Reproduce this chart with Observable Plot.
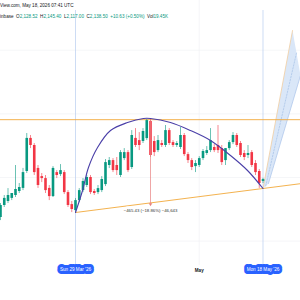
<!DOCTYPE html>
<html><head><meta charset="utf-8">
<script src="https://cdn.jsdelivr.net/npm/d3@7"></script>
<script src="https://cdn.jsdelivr.net/npm/@observablehq/plot@0.6"></script>
<style>html,body{margin:0;padding:0;background:#fff;overflow:hidden}</style>
</head><body><div id="chart"></div>
<script>
// ---- data ----
const firstDay = "2026-03-09"; // daily candles, one per day
const opens  = [1930,1996,2018,2035,2051,2073,2090,2183,2365,2326,2200,2155,2144,2090,2045,2177,2166,2177,2067,2001,
                1968,2023,2078,2106,2150,2073,2067,2078,2111,2216,2243,2216,2161,2254,2287,2205,2365,2353,2348,2364,
                2458,2348,2298,2337,2326,2408,2342,2326,2315,2381,2276,2243,2210,2216,2254,2282,2298,2315,2326,2309,
                2243,2309,2342,2381,2337,2282,2271,2287,2227,2183,2128.52];
const highs  = [2007,2051,2089,2062,2216,2117,2200,2392,2381,2337,2216,2172,2161,2106,2210,2188,2221,2188,2078,2018,
                2034,2089,2144,2161,2161,2084,2106,2155,2249,2260,2254,2260,2298,2309,2298,2408,2419,2397,2419,2470,
                2470,2375,2381,2353,2436,2419,2353,2348,2425,2392,2287,2254,2243,2265,2304,2320,2419,2331,2436,2326,
                2309,2353,2397,2392,2348,2298,2326,2298,2243,2194,2145.40];
const lows   = [1913,1985,2007,2023,2040,2062,2078,2172,2309,2161,2090,2122,2062,2023,2040,2144,2155,2056,1985,1957,
                1957,2012,2067,2095,2056,2051,2056,2067,2100,2199,2177,2161,2150,2243,2177,2194,2315,2298,2337,2353,
                2260,2265,2287,2315,2315,2326,2315,2315,2304,2265,2227,2188,2177,2205,2243,2271,2287,2287,2282,2216,
                2216,2298,2331,2315,2260,2243,2254,2205,2161,2090,2117.00];
const closes = [1996,2035,2051,2062,2084,2095,2177,2365,2326,2177,2106,2144,2078,2045,2200,2161,2188,2067,1996,1974,
                2023,2078,2128,2150,2067,2062,2089,2139,2232,2243,2188,2188,2287,2287,2188,2381,2326,2326,2403,2463,
                2271,2287,2353,2326,2408,2337,2326,2337,2381,2276,2243,2205,2227,2254,2293,2298,2353,2298,2298,2232,
                2309,2342,2381,2326,2271,2260,2282,2216,2177,2117,2138.50];

const resistancePrice = 2468;
const arcDates  = ["2026-03-29T00:00","2026-03-30T21:00","2026-04-01T11:00","2026-04-03T21:00","2026-04-07T08:00",
                   "2026-04-11T21:00","2026-04-16T03:00","2026-04-18T00:00","2026-04-23T08:00","2026-04-28T16:00",
                   "2026-05-04T00:00","2026-05-09T08:00","2026-05-13T21:00","2026-05-18T00:00"];
const arcPrices = [1957.5,2078.5,2205,2315,2408.5,2452.5,2474.5,2474.5,2452.5,2408.5,2353.5,2271,2188.5,2089.5];
const trendDates  = ["2026-03-29","2026-05-28"];
const trendPrices = [1957.5,2116];
const channelLeftDates   = ["2026-05-18T00:00","2026-05-25T21:00"];
const channelLeftPrices  = [2089.5,2958.5];
const channelRightDates  = ["2026-05-19T11:00","2026-05-28T00:00"];
const channelRightPrices = [2117,2711];
const measureDate = "2026-04-18";
const measureTop = 2468, measureBottom = 2003;
const measureLabel = "−465.43 (−18.86%) −46,643";
const markerDates  = ["2026-03-29","2026-05-18"];
const markerLabels = ["Sun 29 Mar '26","Mon 18 May '26"];
const monthDates  = ["2026-05-01"];
const monthLabels = ["May"];
const gridPrices = [1800,2150,2500,2850];
const headerLine1 = "View.com, May 18, 2026 07:41 UTC";
const symbolName = "inbase";
const ohlcKeys = ["O","H","L","C"];
const ohlcValues = ["2,128.52","2,145.40","2,117.00","2,138.50"];
const changeText = "+10.63 (+0.50%)";
const volText = "19.45K";

// ---- build ----
const day0 = new Date(firstDay + "T00:00Z");
const candles = opens.map((o,i)=>({date:d3.utcDay.offset(day0,i),open:o,high:highs[i],low:lows[i],close:closes[i]}));
const dt = s => new Date(s.length>10 ? s+"Z" : s+"T00:00Z");
const arc = arcDates.map((d,i)=>({date:dt(d),price:arcPrices[i]}));
const trend = trendDates.map((d,i)=>({date:dt(d),price:trendPrices[i]}));
const left = channelLeftDates.map((d,i)=>({date:dt(d),price:channelLeftPrices[i]}));
const right = channelRightDates.map((d,i)=>({date:dt(d),price:channelRightPrices[i]}));
const mid = left.map((p,i)=>({date:new Date((+p.date + +right[i].date)/2),price:(p.price+right[i].price)/2}));
const poly = [...left, ...right.slice().reverse()];
const markers = markerDates.map((d,i)=>({date:dt(d),label:markerLabels[i]}));
const months = monthDates.map((d,i)=>({date:dt(d),label:monthLabels[i]}));
const GREEN="#089981", RED="#f23645";
const col = d => d.close>=d.open?GREEN:RED;

const chart = Plot.plot({
  width:300,height:300,margin:0,
  style:{background:"#fff",fontFamily:"Liberation Sans, Arial, sans-serif"},
  x:{type:"utc",domain:[dt("2026-03-09"),dt("2026-05-28")],axis:null},
  y:{domain:[1473.5,3123.5],axis:null},
  marks:[
    Plot.ruleY(gridPrices,{stroke:"#eef0f4",strokeWidth:0.6}),
    Plot.ruleX(months,{x:"date",stroke:"#eef0f4",strokeWidth:0.6,insetBottom:35}),
    Plot.ruleX(markers,{x:"date",stroke:"#b8cdef",strokeWidth:0.7,insetTop:10,insetBottom:35}),
    Plot.line(poly,{x:"date",y:"price",fill:"#d6e4f7",fillOpacity:0.9,stroke:"none"}),
    Plot.line(left,{x:"date",y:"price",stroke:"#f2c894",strokeWidth:0.7}),
    Plot.line(right,{x:"date",y:"price",stroke:"#a9c3ea",strokeWidth:0.7}),
    Plot.line(mid,{x:"date",y:"price",stroke:"#8fb0de",strokeWidth:0.5,strokeDasharray:"1.5,1.5"}),
    Plot.ruleY([resistancePrice],{stroke:"#f2a93b",strokeWidth:0.9}),
    Plot.line(trend,{x:"date",y:"price",stroke:"#f2a93b",strokeWidth:0.9}),
    Plot.ruleX(candles,{x:"date",y1:"low",y2:"high",stroke:col,strokeWidth:0.6}),
    Plot.ruleX(candles,{x:"date",y1:"open",y2:d=>Math.abs(d.close-d.open)<4?d.open+(d.close>=d.open?4:-4):d.close,stroke:col,strokeWidth:2.6}),
    Plot.line(arc,{x:"date",y:"price",curve:"catmull-rom",stroke:"#4a3fa8",strokeWidth:1.1}),
    Plot.ruleX([measureDate].map(dt),{y1:measureTop,y2:measureBottom,stroke:"#e8807f",strokeWidth:0.7}),
    Plot.dot([{x:dt(measureDate),y:measureBottom}],{x:"x",y:"y",symbol:"triangle",r:1.3,fill:"#e8807f",rotate:180}),
    Plot.text([{x:dt(measureDate),y:measureBottom,t:measureLabel}],{x:"x",y:"y",text:"t",dy:6.5,fontSize:4.3,fill:"#333",stroke:"#fff",strokeWidth:5,strokeLinejoin:"round"}),
    Plot.text(markers,{x:"date",text:"label",frameAnchor:"bottom",dy:-30,fontSize:4.6,fill:"#2962ff",stroke:"#2962ff",strokeWidth:6,strokeLinejoin:"round"}),
    Plot.text(markers,{x:"date",text:"label",frameAnchor:"bottom",dy:-30,fontSize:4.6,fill:"#fff"}),
    Plot.text(months,{x:"date",text:"label",frameAnchor:"bottom",dy:-29,fontSize:4.6,fill:"#131722",fontWeight:"bold"})
  ]
});
document.getElementById("chart").append(chart);
const svg = d3.select(chart);
// header
const h = svg.append("g").attr("font-family","Liberation Sans, Arial, sans-serif").attr("font-size",4.6).attr("text-anchor","start");
h.append("text").attr("x",0).attr("y",7).attr("fill","#131722").text(headerLine1);
const t2 = h.append("text").attr("x",0).attr("y",17.5).attr("fill","#131722");
t2.append("tspan").text(symbolName+"  ");
ohlcKeys.forEach((k,i)=>{t2.append("tspan").text(k);t2.append("tspan").attr("fill",GREEN).text(ohlcValues[i]+"  ");});
t2.append("tspan").attr("fill",GREEN).text(changeText+"  ");
t2.append("tspan").text("Vol");
t2.append("tspan").attr("fill",GREEN).text(volText);
</script></body></html>
